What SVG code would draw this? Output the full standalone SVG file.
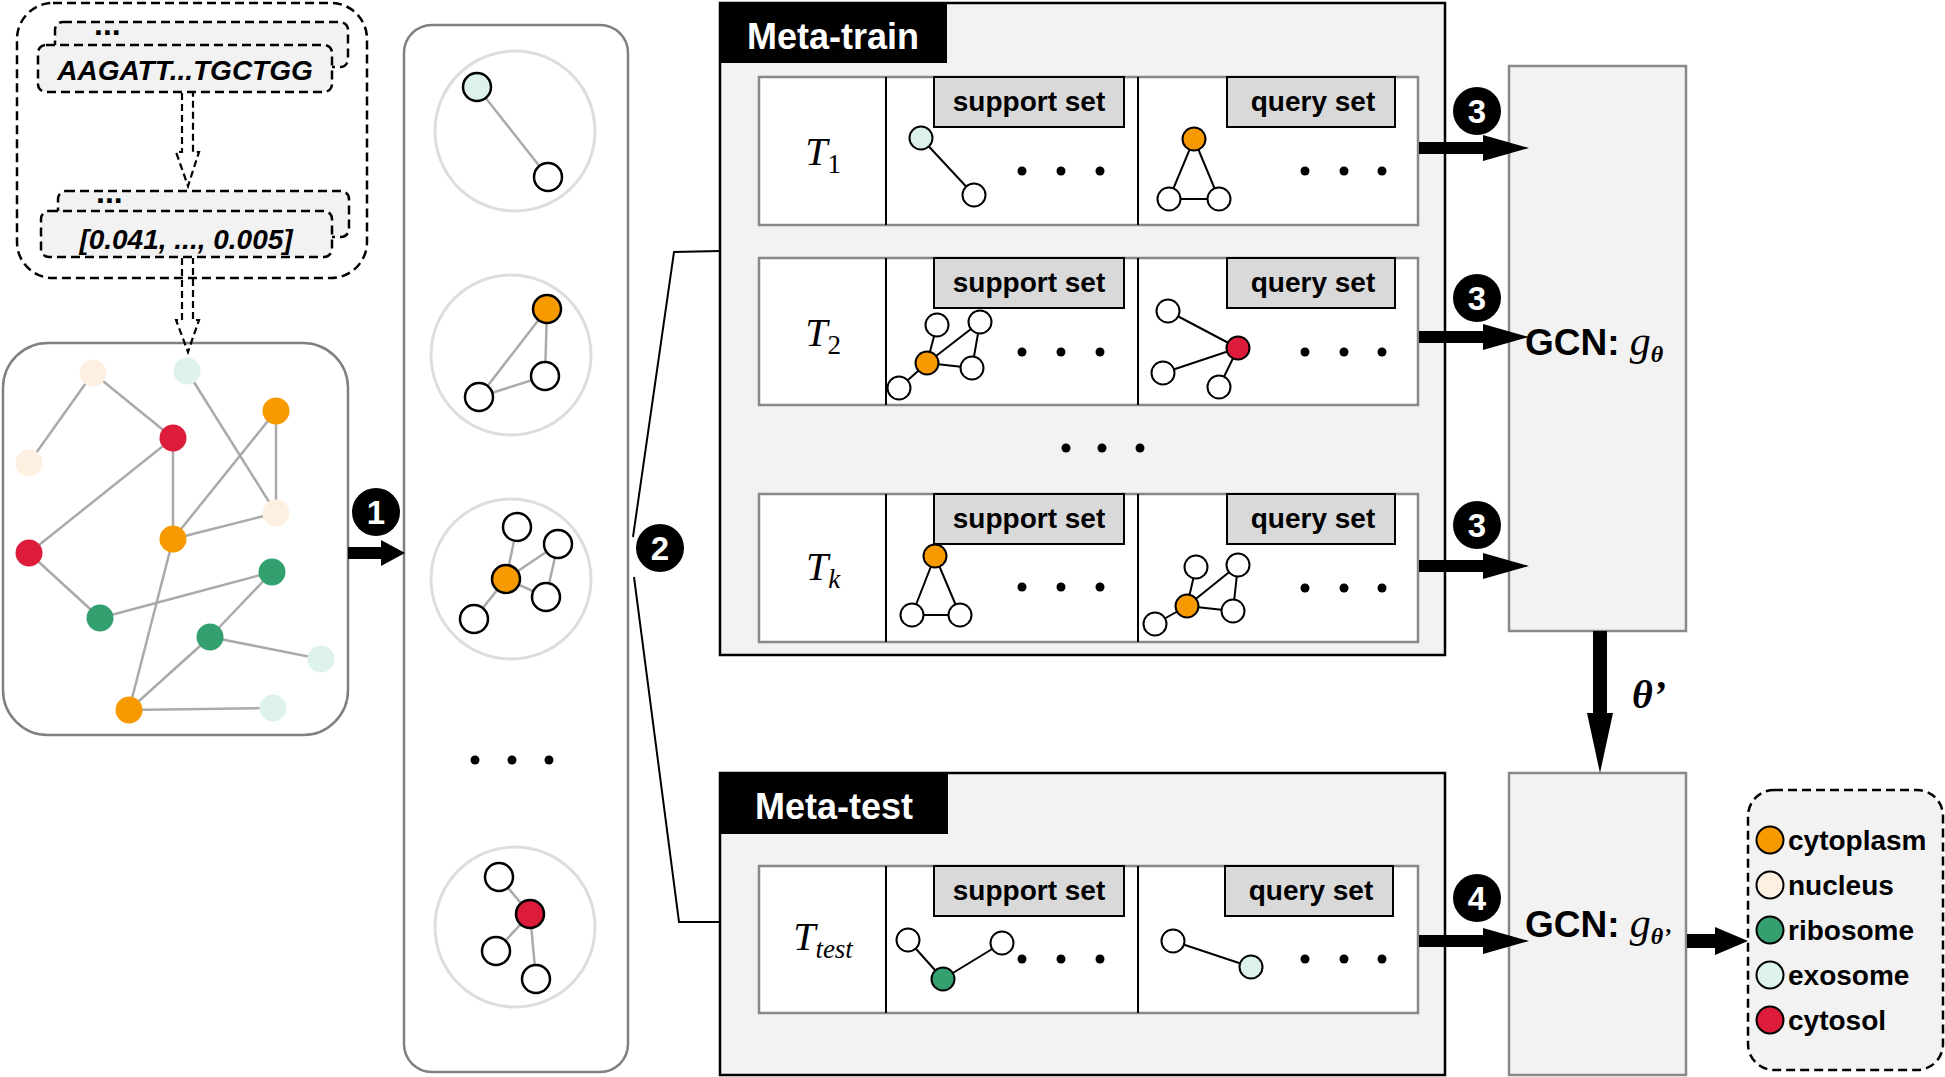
<svg xmlns="http://www.w3.org/2000/svg" width="1945" height="1077" viewBox="0 0 1945 1077">
<defs>
<style>
.dash{fill:none;stroke:#000;stroke-width:2.5;stroke-dasharray:9 5}
.dbox{fill:#f2f2f2;stroke:#000;stroke-width:2.5;stroke-dasharray:9 5}
.darr{fill:none;stroke:#000;stroke-width:2.2;stroke-dasharray:7 4}
.seq{font-family:"Liberation Sans",Arial,sans-serif;font-weight:bold;font-style:italic;font-size:28px;text-anchor:middle}
.ell{font-family:"Liberation Sans",Arial,sans-serif;font-weight:bold;font-size:32px}
.ge{stroke:#aaa;stroke-width:2.5}
.te{stroke:#000;stroke-width:2}
.cyto{fill:#f79a00}.nuc{fill:#fdf0e1}.ribo{fill:#35a06f}.exo{fill:#dcf2ea}.cysol{fill:#dc1c3a}.wh{fill:#fff}
.sn{stroke:#000;stroke-width:2.5}
.tn{stroke:#000;stroke-width:2}
.gbox{fill:#fff;stroke:#808080;stroke-width:2.5}
.gc{fill:#fff;stroke:#ddd;stroke-width:3}
.panel{fill:#f2f2f2;stroke:#000;stroke-width:2.5}
.row{fill:#fff;stroke:#888;stroke-width:2.5}
.div{stroke:#000;stroke-width:2}
.lab{fill:#d9d9d9;stroke:#000;stroke-width:2}
.labt{font-family:"Liberation Sans",Arial,sans-serif;font-weight:bold;font-size:28px;text-anchor:middle}
.hdr{font-family:"Liberation Sans",Arial,sans-serif;font-weight:bold;font-size:36px;fill:#fff;text-anchor:middle}
.math{font-family:"Liberation Serif","Times New Roman",serif;font-size:40px;text-anchor:middle}
.gcn{fill:#f2f2f2;stroke:#888;stroke-width:2.5}
.gcnt{font-family:"Liberation Sans",Arial,sans-serif;font-weight:bold;font-size:37px}
.mi{font-family:"Liberation Serif","Times New Roman",serif;font-style:italic;font-weight:normal}
.mb{font-family:"Liberation Serif","Times New Roman",serif;font-style:italic;font-weight:bold}
.badge{fill:#000}
.badget{font-family:"Liberation Sans",Arial,sans-serif;font-weight:bold;font-size:33px;fill:#fff;text-anchor:middle}
.dot{fill:#000}
.arr{fill:#000}
.brk{fill:none;stroke:#000;stroke-width:2}
.leg{font-family:"Liberation Sans",Arial,sans-serif;font-weight:bold;font-size:28px}
</style>
</defs>
<rect x="0" y="0" width="1945" height="1077" fill="#fff"/>

<g id="sequence-input">
  <rect class="dash" x="17" y="3" width="350" height="275" rx="36"/>
  <rect class="dbox" x="55" y="22" width="293" height="45" rx="8"/>
  <text class="ell" x="94" y="35">...</text>
  <rect class="dbox" x="38" y="45" width="294" height="47" rx="8"/>
  <text class="seq" x="185" y="80">AAGATT...TGCTGG</text>
  <rect class="dbox" x="58" y="191" width="291" height="46" rx="8"/>
  <text class="ell" x="96" y="203">...</text>
  <rect class="dbox" x="41" y="211" width="291" height="46" rx="8"/>
  <text class="seq" x="186" y="249">[0.041, ..., 0.005]</text>
</g>

<g id="graph">
  <rect class="gbox" x="3" y="343" width="345" height="392" rx="45"/>
  <g>
    <line class="ge" x1="93" y1="373" x2="29" y2="463"/>
    <line class="ge" x1="93" y1="373" x2="173" y2="438"/>
    <line class="ge" x1="187" y1="371" x2="276" y2="513"/>
    <line class="ge" x1="276" y1="411" x2="276" y2="513"/>
    <line class="ge" x1="276" y1="411" x2="173" y2="539"/>
    <line class="ge" x1="173" y1="438" x2="173" y2="539"/>
    <line class="ge" x1="173" y1="438" x2="29" y2="553"/>
    <line class="ge" x1="173" y1="539" x2="276" y2="513"/>
    <line class="ge" x1="173" y1="539" x2="129" y2="710"/>
    <line class="ge" x1="29" y1="553" x2="100" y2="618"/>
    <line class="ge" x1="100" y1="618" x2="272" y2="572"/>
    <line class="ge" x1="272" y1="572" x2="210" y2="637"/>
    <line class="ge" x1="210" y1="637" x2="321" y2="659"/>
    <line class="ge" x1="210" y1="637" x2="129" y2="710"/>
    <line class="ge" x1="129" y1="710" x2="273" y2="708"/>
  </g>
  <circle class="nuc" cx="93" cy="373" r="13.5"/>
  <circle class="exo" cx="187" cy="371" r="13.5"/>
  <circle class="cyto" cx="276" cy="411" r="13.5"/>
  <circle class="cysol" cx="173" cy="438" r="13.5"/>
  <circle class="nuc" cx="29" cy="463" r="13.5"/>
  <circle class="nuc" cx="276" cy="513" r="13.5"/>
  <circle class="cyto" cx="173" cy="539" r="13.5"/>
  <circle class="cysol" cx="29" cy="553" r="13.5"/>
  <circle class="ribo" cx="272" cy="572" r="13.5"/>
  <circle class="ribo" cx="100" cy="618" r="13.5"/>
  <circle class="ribo" cx="210" cy="637" r="13.5"/>
  <circle class="exo" cx="321" cy="659" r="13.5"/>
  <circle class="cyto" cx="129" cy="710" r="13.5"/>
  <circle class="exo" cx="273" cy="708" r="13.5"/>
</g>

<g id="subgraphs">
  <rect class="gbox" x="404" y="25" width="224" height="1047" rx="28"/>
  <circle class="gc" cx="515" cy="131" r="80"/>
  <line class="ge" x1="477" y1="87" x2="548" y2="177"/>
  <circle class="exo sn" cx="477" cy="87" r="14"/>
  <circle class="wh sn" cx="548" cy="177" r="14"/>

  <circle class="gc" cx="511" cy="355" r="80"/>
  <line class="ge" x1="547" y1="309" x2="545" y2="376"/>
  <line class="ge" x1="545" y1="376" x2="479" y2="397"/>
  <line class="ge" x1="547" y1="309" x2="479" y2="397"/>
  <circle class="cyto sn" cx="547" cy="309" r="14"/>
  <circle class="wh sn" cx="545" cy="376" r="14"/>
  <circle class="wh sn" cx="479" cy="397" r="14"/>

  <circle class="gc" cx="511" cy="579" r="80"/>
  <line class="ge" x1="506" y1="579" x2="517" y2="527"/>
  <line class="ge" x1="506" y1="579" x2="558" y2="544"/>
  <line class="ge" x1="506" y1="579" x2="546" y2="597"/>
  <line class="ge" x1="558" y1="544" x2="546" y2="597"/>
  <line class="ge" x1="506" y1="579" x2="474" y2="619"/>
  <circle class="wh sn" cx="517" cy="527" r="14"/>
  <circle class="wh sn" cx="558" cy="544" r="14"/>
  <circle class="wh sn" cx="546" cy="597" r="14"/>
  <circle class="wh sn" cx="474" cy="619" r="14"/>
  <circle class="cyto sn" cx="506" cy="579" r="14"/>

  <circle class="dot" cx="475" cy="760" r="4.5"/>
  <circle class="dot" cx="512" cy="760" r="4.5"/>
  <circle class="dot" cx="549" cy="760" r="4.5"/>

  <circle class="gc" cx="515" cy="927" r="80"/>
  <line class="ge" x1="530" y1="914" x2="499" y2="877"/>
  <line class="ge" x1="530" y1="914" x2="496" y2="951"/>
  <line class="ge" x1="530" y1="914" x2="536" y2="979"/>
  <circle class="wh sn" cx="499" cy="877" r="14"/>
  <circle class="wh sn" cx="496" cy="951" r="14"/>
  <circle class="wh sn" cx="536" cy="979" r="14"/>
  <circle class="cysol sn" cx="530" cy="914" r="14"/>
</g>

<g id="meta-train">
  <rect class="panel" x="720" y="3" width="725" height="652"/>
  <rect x="720" y="3" width="227" height="60" fill="#000"/>
  <text class="hdr" x="833" y="49">Meta-train</text>

  <g id="task-T1">
    <rect class="row" x="759" y="77" width="659" height="148"/>
    <line class="div" x1="886" y1="77" x2="886" y2="225"/>
    <line class="div" x1="1138" y1="77" x2="1138" y2="225"/>
    <text class="math" x="823" y="165"><tspan font-style="italic">T</tspan><tspan font-size="27" dy="8">1</tspan></text>
    <rect class="lab" x="934" y="77" width="190" height="50"/>
    <text class="labt" x="1029" y="111">support set</text>
    <rect class="lab" x="1227" y="77" width="168" height="50"/>
    <text class="labt" x="1313" y="111">query set</text>
    <line class="te" x1="921" y1="138" x2="974" y2="195"/>
    <circle class="exo tn" cx="921" cy="138" r="11.5"/>
    <circle class="wh tn" cx="974" cy="195" r="11.5"/>
    <circle class="dot" cx="1022" cy="171" r="4.5"/><circle class="dot" cx="1061" cy="171" r="4.5"/><circle class="dot" cx="1100" cy="171" r="4.5"/>
    <line class="te" x1="1194" y1="139" x2="1169" y2="199"/>
    <line class="te" x1="1194" y1="139" x2="1219" y2="199"/>
    <line class="te" x1="1169" y1="199" x2="1219" y2="199"/>
    <circle class="cyto tn" cx="1194" cy="139" r="11.5"/>
    <circle class="wh tn" cx="1169" cy="199" r="11.5"/>
    <circle class="wh tn" cx="1219" cy="199" r="11.5"/>
    <circle class="dot" cx="1305" cy="171" r="4.5"/><circle class="dot" cx="1344" cy="171" r="4.5"/><circle class="dot" cx="1382" cy="171" r="4.5"/>
  </g>

  <g id="task-T2">
    <rect class="row" x="759" y="258" width="659" height="147"/>
    <line class="div" x1="886" y1="258" x2="886" y2="405"/>
    <line class="div" x1="1138" y1="258" x2="1138" y2="405"/>
    <text class="math" x="823" y="346"><tspan font-style="italic">T</tspan><tspan font-size="27" dy="8">2</tspan></text>
    <rect class="lab" x="934" y="258" width="190" height="50"/>
    <text class="labt" x="1029" y="292">support set</text>
    <rect class="lab" x="1227" y="258" width="168" height="50"/>
    <text class="labt" x="1313" y="292">query set</text>
    <line class="te" x1="927" y1="363" x2="937" y2="325"/>
    <line class="te" x1="927" y1="363" x2="980" y2="322"/>
    <line class="te" x1="980" y1="322" x2="972" y2="368"/>
    <line class="te" x1="927" y1="363" x2="972" y2="368"/>
    <line class="te" x1="927" y1="363" x2="899" y2="388"/>
    <circle class="wh tn" cx="937" cy="325" r="11.5"/>
    <circle class="wh tn" cx="980" cy="322" r="11.5"/>
    <circle class="wh tn" cx="972" cy="368" r="11.5"/>
    <circle class="wh tn" cx="899" cy="388" r="11.5"/>
    <circle class="cyto tn" cx="927" cy="363" r="11.5"/>
    <circle class="dot" cx="1022" cy="352" r="4.5"/><circle class="dot" cx="1061" cy="352" r="4.5"/><circle class="dot" cx="1100" cy="352" r="4.5"/>
    <line class="te" x1="1238" y1="348" x2="1168" y2="311"/>
    <line class="te" x1="1238" y1="348" x2="1163" y2="373"/>
    <line class="te" x1="1238" y1="348" x2="1219" y2="387"/>
    <circle class="wh tn" cx="1168" cy="311" r="11.5"/>
    <circle class="wh tn" cx="1163" cy="373" r="11.5"/>
    <circle class="wh tn" cx="1219" cy="387" r="11.5"/>
    <circle class="cysol tn" cx="1238" cy="348" r="11.5"/>
    <circle class="dot" cx="1305" cy="352" r="4.5"/><circle class="dot" cx="1344" cy="352" r="4.5"/><circle class="dot" cx="1382" cy="352" r="4.5"/>
  </g>

  <circle class="dot" cx="1066" cy="448" r="4.5"/><circle class="dot" cx="1102" cy="448" r="4.5"/><circle class="dot" cx="1140" cy="448" r="4.5"/>

  <g id="task-Tk">
    <rect class="row" x="759" y="494" width="659" height="148"/>
    <line class="div" x1="886" y1="494" x2="886" y2="642"/>
    <line class="div" x1="1138" y1="494" x2="1138" y2="642"/>
    <text class="math" x="823" y="580"><tspan font-style="italic">T</tspan><tspan font-size="27" font-style="italic" dy="8">k</tspan></text>
    <rect class="lab" x="934" y="494" width="190" height="50"/>
    <text class="labt" x="1029" y="528">support set</text>
    <rect class="lab" x="1227" y="494" width="168" height="50"/>
    <text class="labt" x="1313" y="528">query set</text>
    <line class="te" x1="935" y1="556" x2="912" y2="615"/>
    <line class="te" x1="935" y1="556" x2="960" y2="615"/>
    <line class="te" x1="912" y1="615" x2="960" y2="615"/>
    <circle class="cyto tn" cx="935" cy="556" r="11.5"/>
    <circle class="wh tn" cx="912" cy="615" r="11.5"/>
    <circle class="wh tn" cx="960" cy="615" r="11.5"/>
    <circle class="dot" cx="1022" cy="587" r="4.5"/><circle class="dot" cx="1061" cy="587" r="4.5"/><circle class="dot" cx="1100" cy="587" r="4.5"/>
    <line class="te" x1="1187" y1="606" x2="1196" y2="567"/>
    <line class="te" x1="1187" y1="606" x2="1238" y2="565"/>
    <line class="te" x1="1238" y1="565" x2="1233" y2="611"/>
    <line class="te" x1="1187" y1="606" x2="1233" y2="611"/>
    <line class="te" x1="1187" y1="606" x2="1155" y2="624"/>
    <circle class="wh tn" cx="1196" cy="567" r="11.5"/>
    <circle class="wh tn" cx="1238" cy="565" r="11.5"/>
    <circle class="wh tn" cx="1233" cy="611" r="11.5"/>
    <circle class="wh tn" cx="1155" cy="624" r="11.5"/>
    <circle class="cyto tn" cx="1187" cy="606" r="11.5"/>
    <circle class="dot" cx="1305" cy="588" r="4.5"/><circle class="dot" cx="1344" cy="588" r="4.5"/><circle class="dot" cx="1382" cy="588" r="4.5"/>
  </g>
</g>

<g id="meta-test">
  <rect class="panel" x="720" y="773" width="725" height="302"/>
  <rect x="720" y="773" width="228" height="61" fill="#000"/>
  <text class="hdr" x="834" y="819">Meta-test</text>
  <g id="task-Ttest">
    <rect class="row" x="759" y="866" width="659" height="147"/>
    <line class="div" x1="886" y1="866" x2="886" y2="1013"/>
    <line class="div" x1="1138" y1="866" x2="1138" y2="1013"/>
    <text class="math" x="823" y="950"><tspan font-style="italic">T</tspan><tspan font-size="27" font-style="italic" dy="8">test</tspan></text>
    <rect class="lab" x="934" y="866" width="190" height="50"/>
    <text class="labt" x="1029" y="900">support set</text>
    <rect class="lab" x="1225" y="866" width="168" height="50"/>
    <text class="labt" x="1311" y="900">query set</text>
    <line class="te" x1="908" y1="940" x2="943" y2="979"/>
    <line class="te" x1="943" y1="979" x2="1002" y2="943"/>
    <circle class="wh tn" cx="908" cy="940" r="11.5"/>
    <circle class="ribo tn" cx="943" cy="979" r="11.5"/>
    <circle class="wh tn" cx="1002" cy="943" r="11.5"/>
    <circle class="dot" cx="1022" cy="959" r="4.5"/><circle class="dot" cx="1061" cy="959" r="4.5"/><circle class="dot" cx="1100" cy="959" r="4.5"/>
    <line class="te" x1="1173" y1="941" x2="1251" y2="967"/>
    <circle class="wh tn" cx="1173" cy="941" r="11.5"/>
    <circle class="exo tn" cx="1251" cy="967" r="11.5"/>
    <circle class="dot" cx="1305" cy="959" r="4.5"/><circle class="dot" cx="1344" cy="959" r="4.5"/><circle class="dot" cx="1382" cy="959" r="4.5"/>
  </g>
</g>

<g id="gcn-train">
  <rect class="gcn" x="1509" y="66" width="177" height="565"/>
  <text class="gcnt" x="1525" y="355">GCN: <tspan class="mi" font-size="42">g</tspan><tspan class="mb" font-size="24" dy="7">θ</tspan></text>
</g>

<g id="gcn-test">
  <rect class="gcn" x="1509" y="773" width="177" height="302"/>
  <text class="gcnt" x="1525" y="937">GCN: <tspan class="mi" font-size="42">g</tspan><tspan class="mb" font-size="24" dy="7">θ’</tspan></text>
</g>

<g id="legend">
  <rect class="dbox" x="1748" y="790" width="195" height="280" rx="26"/>
  <circle class="cyto tn" cx="1770" cy="840" r="13.5"/>
  <text class="leg" x="1788" y="850">cytoplasm</text>
  <circle class="nuc tn" cx="1770" cy="885" r="13.5"/>
  <text class="leg" x="1788" y="895">nucleus</text>
  <circle class="ribo tn" cx="1770" cy="930" r="13.5"/>
  <text class="leg" x="1788" y="940">ribosome</text>
  <circle class="exo tn" cx="1770" cy="975" r="13.5"/>
  <text class="leg" x="1788" y="985">exosome</text>
  <circle class="cysol tn" cx="1770" cy="1020" r="13.5"/>
  <text class="leg" x="1788" y="1030">cytosol</text>
</g>

<g id="connectors">
  <path class="darr" d="M182,93 V152 H176 L188,186 L199,152 H193 V93"/>
  <path class="darr" d="M182,258 V320 H176 L188,352 L199,320 H193 V258"/>
  <polygon class="arr" points="348,547 381,547 381,540 405,553 381,566 381,559 348,559"/>
  <polyline class="brk" points="720,251 674,252 633,537"/>
  <polyline class="brk" points="634,577 679,922 720,922"/>
  <polygon class="arr" points="1419,142 1483,142 1483,135 1529,148 1483,161 1483,154 1419,154"/>
  <polygon class="arr" points="1419,331 1483,331 1483,324 1529,337 1483,350 1483,343 1419,343"/>
  <polygon class="arr" points="1419,560 1483,560 1483,553 1529,566 1483,579 1483,572 1419,572"/>
  <polygon class="arr" points="1419,935 1483,935 1483,928 1529,941 1483,954 1483,947 1419,947"/>
  <polygon class="arr" points="1593,631 1607,631 1607,713 1613,713 1600,773 1587,713 1593,713"/>
  <polygon class="arr" points="1687,934 1715,934 1715,927 1748,941 1715,955 1715,948 1687,948"/>
  <text class="mb" x="1632" y="708" font-size="40">θ’</text>
</g>

<g id="badges">
  <circle class="badge" cx="376" cy="512" r="24"/><text class="badget" x="376" y="524">1</text>
  <circle class="badge" cx="660" cy="548" r="24"/><text class="badget" x="660" y="560">2</text>
  <circle class="badge" cx="1477" cy="111" r="24"/><text class="badget" x="1477" y="123">3</text>
  <circle class="badge" cx="1477" cy="298" r="24"/><text class="badget" x="1477" y="310">3</text>
  <circle class="badge" cx="1477" cy="525" r="24"/><text class="badget" x="1477" y="537">3</text>
  <circle class="badge" cx="1477" cy="898" r="24"/><text class="badget" x="1477" y="910">4</text>
</g>
</svg>
